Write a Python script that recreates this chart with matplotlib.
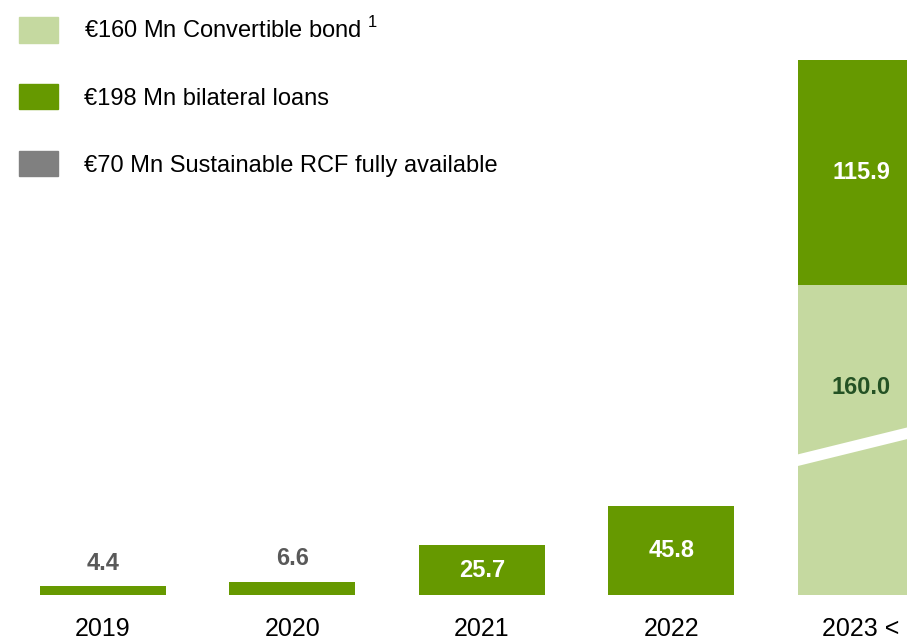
import matplotlib.pyplot as plt
from matplotlib.patches import Patch

plt.rcParams['font.family'] = ['Liberation Sans', 'DejaVu Sans']
plt.rcParams['mathtext.fontset'] = 'custom'
plt.rcParams['mathtext.rm'] = 'Liberation Sans'

years = ["2019", "2020", "2021", "2022", "2023 <"]
bilateral = [4.4, 6.6, 25.7, 45.8, 115.9]
convertible = [0, 0, 0, 0, 160.0]

c_conv = "#c5d9a0"
c_bil = "#669900"
c_rcf = "#808080"

W, H = 907, 644
fig = plt.figure(figsize=(W / 100, H / 100), dpi=100)
base_px = 49
ax = fig.add_axes([0, base_px / H, 1, (H - base_px) / H])
px_per_unit = 1.94
x = list(range(len(years)))
ax.set_xlim(-0.5435, 4.243)
ax.set_ylim(0, (H - base_px) / px_per_unit)

w = 0.665
ax.bar(x, convertible, w, color=c_conv)
ax.bar(x, bilateral, w, bottom=convertible, color=c_bil)

# axis break on the convertible bar
bx = x[-1]
ax.fill([bx - w / 2, bx + w / 2, bx + w / 2, bx - w / 2],
        [66.5, 82.5, 88.5, 72.5], color="white", lw=0, zorder=3)

for i, (b, c) in enumerate(zip(bilateral, convertible)):
    if c > 0:
        ax.text(i, c + b / 2, f"{b:.1f}", ha="center", va="center",
                color="white", fontsize=17, fontweight="bold")
        ax.text(i, c * 0.67, f"{c:.1f}", ha="center", va="center",
                color="#245224", fontsize=17, fontweight="bold", zorder=4)
    elif b < 10:
        ax.text(i, b + 12, f"{b:.1f}", ha="center", va="center",
                color="#595959", fontsize=17, fontweight="bold")
    else:
        ax.text(i, b / 2, f"{b:.1f}", ha="center", va="center",
                color="white", fontsize=17, fontweight="bold")

ax.set_xticks(x)
ax.set_xticklabels(years, fontsize=18)
ax.tick_params(axis="x", length=0, pad=16)
ax.set_yticks([])
for s in ax.spines.values():
    s.set_visible(False)

handles = [Patch(color=c_conv), Patch(color=c_bil), Patch(color=c_rcf)]
labels = ["€160 Mn Convertible bond $^{1}$", "€198 Mn bilateral loans",
          "€70 Mn Sustainable RCF fully available"]
fig.legend(handles, labels, loc="upper left", bbox_to_anchor=(19 / W, 1 - 17 / H),
           frameon=False, fontsize=17, handlelength=1.65, handleheight=1.27,
           handletextpad=1.1, labelspacing=1.75, borderpad=0, borderaxespad=0)

fig.savefig("out.png", dpi=100)
